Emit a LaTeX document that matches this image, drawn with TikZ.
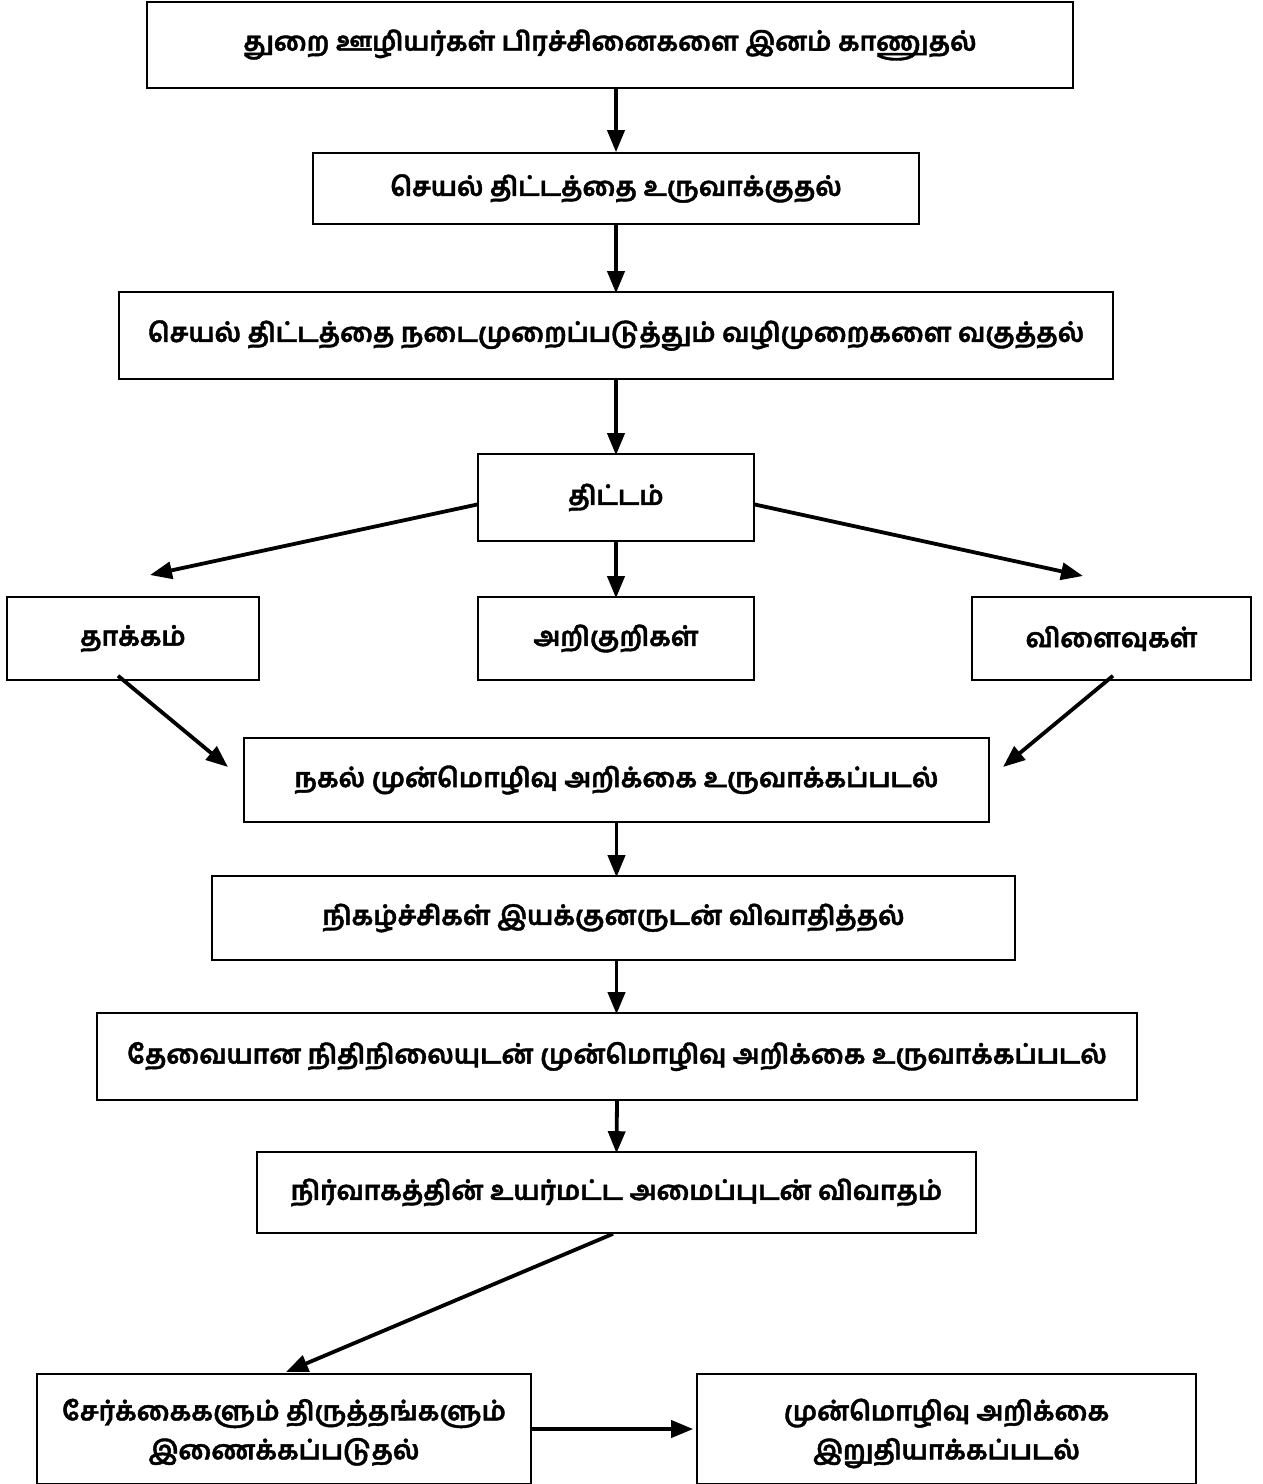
\documentclass[tikz,border=0pt]{standalone}
\usepackage{fontspec}
\newfontfamily\tamil[Script=Tamil,BoldFeatures={FakeBold=1.5}]{Hind Madurai}
\usetikzlibrary{arrows.meta}
\begin{document}
\begin{tikzpicture}[x=1pt,y=-1pt,
  box/.style={draw,line width=1.6pt,inner sep=0pt,font=\tamil\bfseries\fontsize{26.5}{39}\selectfont,align=center},
  arr/.style={line width=3.8pt,-{Triangle[length=22pt,width=17pt]}}]
\useasboundingbox (0,0) rectangle (1262,1484);
\node[box,minimum width=926pt,minimum height=86pt] (b1) at (610,45) {துறை ஊழியர்கள் பிரச்சினைகளை இனம் காணுதல்};
\node[box,minimum width=606pt,minimum height=71pt] (b2) at (616,188.5) {செயல் திட்டத்தை உருவாக்குதல்};
\node[box,minimum width=994pt,minimum height=87pt] (b3) at (616,335.5) {செயல் திட்டத்தை நடைமுறைப்படுத்தும் வழிமுறைகளை வகுத்தல்};
\node[box,minimum width=276pt,minimum height=87pt] (b4) at (616,497.5) {திட்டம்};
\node[box,minimum width=252pt,minimum height=83pt] (b5) at (133,638.5) {தாக்கம்};
\node[box,minimum width=276pt,minimum height=83pt] (b6) at (616,638.5) {அறிகுறிகள்};
\node[box,minimum width=279pt,minimum height=83pt] (b7) at (1111.5,638.5) {விளைவுகள்};
\node[box,minimum width=745pt,minimum height=84pt] (b8) at (616.5,780) {நகல் முன்மொழிவு அறிக்கை உருவாக்கப்படல்};
\node[box,minimum width=803pt,minimum height=84pt] (b9) at (613.5,918) {நிகழ்ச்சிகள் இயக்குனருடன் விவாதித்தல்};
\node[box,minimum width=1040pt,minimum height=87pt] (b10) at (617,1056.5) {தேவையான நிதிநிலையுடன் முன்மொழிவு அறிக்கை உருவாக்கப்படல்};
\node[box,minimum width=719pt,minimum height=81pt] (b11) at (616.5,1192.5) {நிர்வாகத்தின் உயர்மட்ட அமைப்புடன் விவாதம்};
\node[box,minimum width=494pt,minimum height=110pt,text depth=-4pt] (b12) at (284,1429) {சேர்க்கைகளும் திருத்தங்களும்\\இணைக்கப்படுதல்};
\node[box,minimum width=499pt,minimum height=110pt,text depth=-4pt] (b13) at (946.5,1429) {முன்மொழிவு அறிக்கை\\இறுதியாக்கப்படல்};
\coordinate (t5) at (150,575);
\coordinate (t7) at (1083,576);
\coordinate (t8l) at (228,767);
\coordinate (t8r) at (1003,767);
\coordinate (t12) at (286,1372);
\draw[arr] (b1.south -| b2.north) -- (b2.north);
\draw[arr] (b2.south) -- ([yshift=-2pt]b3.north);
\draw[arr] (b3.south) -- ([yshift=-2pt]b4.north);
\draw[arr] (b4.south) -- ([yshift=-2pt]b6.north);
\draw[arr] ([yshift=-7pt]b4.west) -- (t5);
\draw[arr] ([yshift=-7pt]b4.east) -- (t7);
\draw[arr] ([xshift=-15pt,yshift=5pt]b5.south) -- (t8l);
\draw[arr] ([xshift=1.5pt,yshift=5pt]b7.south) -- (t8r);
\draw[arr] (b8.south) -- ([yshift=-2pt]b8.south |- b9.north);
\draw[arr] (b9.south -| b8.south) -- ([yshift=-2pt]b8.south |- b10.north);
\draw[arr] (b10.south) -- ([yshift=-2pt]b11.north);
\draw[arr] ([xshift=-3.5pt]b11.south) -- (t12);
\draw[arr] (b12.east) -- ([xshift=-3pt]b13.west);
\end{tikzpicture}
\end{document}
